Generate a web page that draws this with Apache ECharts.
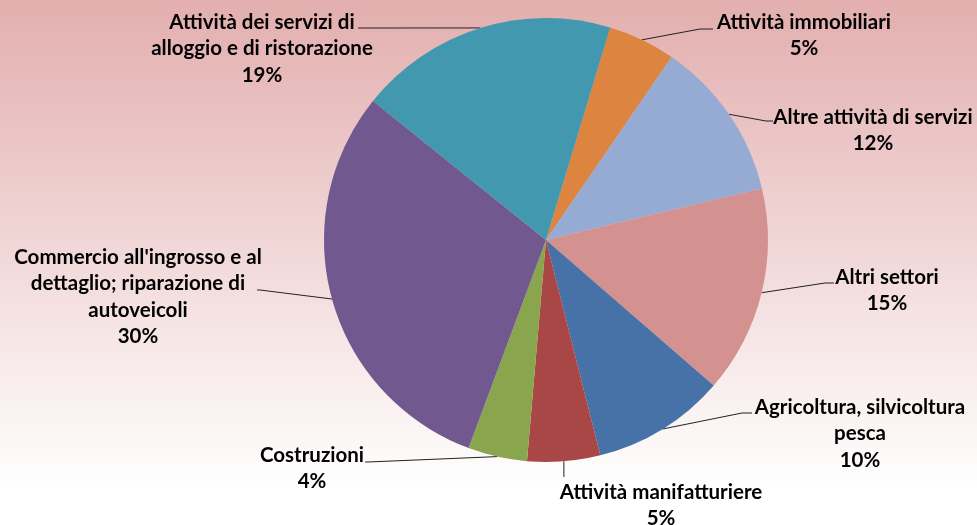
<!DOCTYPE html>
<html>
<head>
<meta charset="utf-8">
<script src="https://cdn.jsdelivr.net/npm/echarts@6/dist/echarts.min.js"></script>
<style>html,body{margin:0;padding:0;}#c{width:977px;height:525px;}</style>
</head>
<body>
<div id="c"></div>
<script>
// Data (clockwise from the top)
const categories = [
  'Attività immobiliari',
  'Altre attività di servizi',
  'Altri settori',
  'Agricoltura, silvicoltura\npesca',
  'Attività manifatturiere',
  'Costruzioni',
  "Commercio all'ingrosso e al\ndettaglio; riparazione di\nautoveicoli",
  'Attività dei servizi di\nalloggio e di ristorazione'
];
const shares = [4.9, 11.7, 15.1, 9.7, 5.3, 4.3, 30.1, 18.9];

// Styling / layout (kept separate from data)
const sliceColors = ['#DC8440', '#95ABD3', '#D39190', '#4672A8', '#A84745', '#89A54E', '#71588F', '#4298AF'];
// label text block: top-centre x, top y; leader line bend/end points
const labelPlace = [
  { x: 804, y: 9,   bend: [700, 29],  end: [713, 29] },
  { x: 873, y: 104, bend: [766, 121], end: [773, 121] },
  { x: 887, y: 264, bend: [825, 283], end: [834, 283] },
  { x: 860, y: 394, bend: [742, 413], end: [752, 413] },
  { x: 661, y: 479, bend: null,       end: null },
  { x: 312, y: 442, bend: [368, 462], end: [365, 462] },
  { x: 138, y: 244, bend: [260, 290], end: [257, 290] },
  { x: 262, y: 9,   bend: [362, 28],  end: [358, 28] }
];

const chart = echarts.init(document.getElementById('c'), null, { renderer: 'canvas' });
chart.setOption({
  animation: false,
  backgroundColor: {
    type: 'linear', x: 0, y: 0, x2: 0, y2: 1,
    colorStops: [
      { offset: 0, color: '#E3AEAE' },
      { offset: 0.93, color: '#FFFFFF' },
      { offset: 1, color: '#FFFFFF' }
    ]
  },
  series: [{
    type: 'pie',
    center: [546, 240],
    radius: 222,
    startAngle: 73.2,
    clockwise: true,
    avoidLabelOverlap: false,
    data: categories.map((n, i) => ({ name: n, value: shares[i], itemStyle: { color: sliceColors[i] } })),
    itemStyle: { borderWidth: 0 },
    label: {
      show: true,
      position: 'outside',
      formatter: p => p.name + '\n' + Math.round(p.percent) + '%',
      fontFamily: 'Lato',
      fontWeight: 'bold',
      fontSize: 20.5,
      lineHeight: 26.5,
      color: '#000',
      align: 'center'
    },
    labelLine: {
      show: true,
      length: 20,
      length2: 10,
      lineStyle: { color: '#222', width: 1 }
    },
    labelLayout: function (params) {
      const lp = labelPlace[params.dataIndex];
      const pts = params.labelLinePoints;
      const p0 = pts ? pts[0] : [0, 0];
      let line;
      if (lp.bend) {
        line = [p0, lp.bend, lp.end];
      } else {
        line = [p0, [p0[0], lp.y - 2], [p0[0], lp.y - 2]];
      }
      return {
        x: lp.x,
        y: lp.y,
        align: 'center',
        verticalAlign: 'top',
        labelLinePoints: line
      };
    }
  }]
});
</script>
</body>
</html>
